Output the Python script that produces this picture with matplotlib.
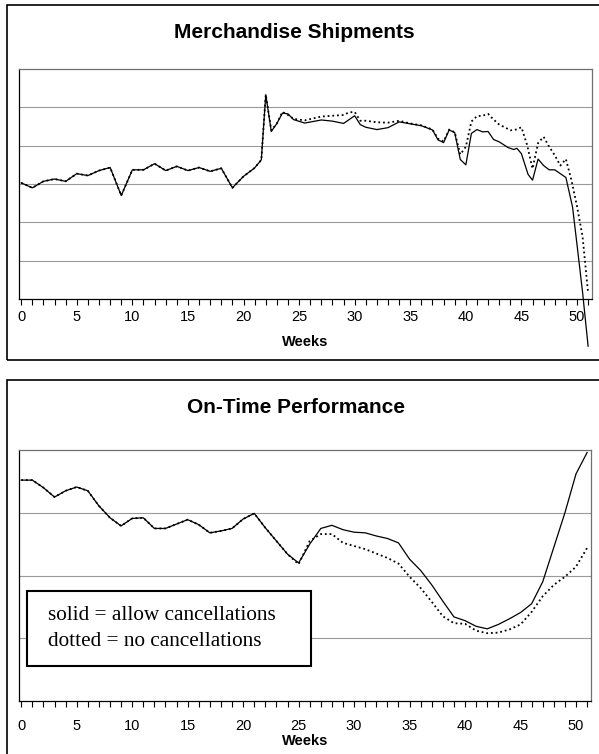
"""
Merchandise shipments / on-time performance, weekly
"""

import matplotlib
matplotlib.use("Agg")
from matplotlib import pyplot as plt
from matplotlib.patches import Rectangle

# ---- data -------------------------------------------------------------
# Merchandise Shipments, solid = allow cancellations
ship_weeks_solid = list(range(22)) + [
    21.6, 22, 22.5, 23, 23.5, 24, 24.5, 25.5,
    27, 28, 29, 30, 30.5, 31, 32, 33, 34, 35, 36, 37,
    37.5, 38, 38.5, 39, 39.5, 40, 40.5, 41, 41.5, 42, 42.5, 43,
    43.8, 44.3, 44.6, 45, 45.6, 46, 46.5, 47, 47.5, 48, 48.5, 49,
    49.6, 50, 50.5, 51]
ship_solid = [
    3.03, 2.90, 3.07, 3.13, 3.07, 3.27, 3.22, 3.35, 3.43, 2.70, 3.37,
    3.37, 3.53, 3.35, 3.46, 3.35, 3.43, 3.33, 3.41, 2.90, 3.20, 3.42,
    3.63, 5.33, 4.37, 4.58, 4.85, 4.83, 4.68, 4.59,
    4.67, 4.64, 4.58, 4.78, 4.55, 4.48, 4.42, 4.47, 4.62, 4.57, 4.52, 4.41,
    4.15, 4.08, 4.41, 4.34, 3.64, 3.50, 4.32, 4.42, 4.36, 4.37, 4.16, 4.10,
    3.95, 3.90, 3.93, 3.79, 3.25, 3.10, 3.65, 3.48, 3.37, 3.37, 3.27, 3.17,
    2.40, 1.42, 0.18, -1.23]

# Merchandise Shipments, dotted = no cancellations
ship_weeks_dot = list(range(22)) + [
    21.6, 22, 22.5, 23, 23.5, 24, 24.5, 25.5,
    27, 28, 29, 29.5, 30, 30.5, 31, 32, 33, 34, 35, 36, 37,
    37.5, 38, 38.5, 39, 39.5, 40, 40.5, 41, 41.5, 42, 42.5, 43,
    43.5, 44, 44.5, 45, 45.5, 46, 46.5, 47, 47.5, 48, 48.5, 49,
    49.5, 50, 50.5, 51]
ship_dot = [
    3.03, 2.90, 3.07, 3.13, 3.07, 3.27, 3.22, 3.35, 3.43, 2.70, 3.37,
    3.37, 3.53, 3.35, 3.46, 3.35, 3.43, 3.33, 3.41, 2.90, 3.20, 3.42,
    3.63, 5.33, 4.40, 4.58, 4.88, 4.80, 4.70, 4.66,
    4.76, 4.78, 4.80, 4.87, 4.88, 4.65, 4.65, 4.61, 4.60, 4.65, 4.58, 4.53, 4.42,
    4.18, 4.11, 4.42, 4.35, 3.77, 3.97, 4.63, 4.77, 4.78, 4.83, 4.68, 4.55,
    4.48, 4.40, 4.42, 4.48, 4.03, 3.40, 4.07, 4.23, 3.97, 3.75, 3.48, 3.65,
    3.10, 2.42, 1.63, 0.16]

# On-Time Performance, one value per week
otp_weeks = list(range(52))
otp_solid = [
    3.52, 3.52, 3.40, 3.25, 3.35, 3.41, 3.35, 3.11, 2.92, 2.79,
    2.91, 2.92, 2.75, 2.75, 2.82, 2.89, 2.81, 2.68, 2.71, 2.75,
    2.90, 2.99, 2.76, 2.55, 2.34, 2.20, 2.50, 2.75, 2.80, 2.73,
    2.69, 2.68, 2.63, 2.59, 2.52, 2.26, 2.08, 1.85, 1.59, 1.34,
    1.28, 1.19, 1.15, 1.22, 1.31, 1.41, 1.55, 1.90, 2.45, 3.00,
    3.62, 3.96]
otp_dot = [
    3.52, 3.52, 3.40, 3.25, 3.35, 3.41, 3.35, 3.11, 2.92, 2.79,
    2.91, 2.92, 2.75, 2.75, 2.82, 2.89, 2.81, 2.68, 2.71, 2.75,
    2.90, 2.99, 2.76, 2.55, 2.34, 2.18, 2.55, 2.66, 2.66, 2.52,
    2.47, 2.42, 2.35, 2.28, 2.19, 1.98, 1.80, 1.58, 1.35, 1.24,
    1.23, 1.12, 1.08, 1.09, 1.14, 1.22, 1.42, 1.67, 1.85, 1.98,
    2.14, 2.44]

tick_weeks = list(range(52))
label_weeks = list(range(0, 51, 5))

W, H = 599, 754


def fx(px):
    return px / W


def fy(py):
    return 1 - py / H


def style_axes(ax, ymax, tick_pad, label_pad):
    ax.set_xlim(-0.2, 51.35)
    ax.set_ylim(0, ymax)
    ax.set_yticks(range(1, ymax))
    ax.set_yticklabels([])
    ax.tick_params(axis="y", length=0)
    ax.grid(axis="y", color="#9a9a9a", linewidth=0.8)
    ax.set_axisbelow(True)
    ax.set_xticks(label_weeks)
    ax.set_xticks(tick_weeks, minor=True)
    ax.tick_params(axis="x", which="both", direction="out", length=4,
                   width=0.8, color="black", labelsize=10.5, pad=tick_pad)
    for s in ("top", "right"):
        ax.spines[s].set_color("#707070")
        ax.spines[s].set_linewidth(0.9)
    for s in ("left", "bottom"):
        ax.spines[s].set_color("black")
        ax.spines[s].set_linewidth(0.9)
    ax.set_xlabel("Weeks", fontsize=10.5, fontweight="bold", labelpad=label_pad)


plt.rcParams['font.family'] = ['Liberation Sans', 'DejaVu Sans']

fig = plt.figure(figsize=(W / 100, H / 100), dpi=100)

# chart frames
fig.add_artist(Rectangle((fx(7), fy(360)), 1.0, fy(5) - fy(360),
                         transform=fig.transFigure, fill=False,
                         edgecolor="black", linewidth=1.2))
fig.add_artist(Rectangle((fx(7), -0.05), 1.0, fy(380) + 0.05,
                         transform=fig.transFigure, fill=False,
                         edgecolor="black", linewidth=1.2))

# top: Merchandise Shipments
ax1 = fig.add_axes([fx(19), fy(299), fx(592) - fx(19), fy(69) - fy(299)])
style_axes(ax1, 6, tick_pad=4, label_pad=8)
ax1.plot(ship_weeks_solid, ship_solid, color="black", linewidth=0.9,
         clip_on=False)
ax1.plot(ship_weeks_dot, ship_dot, color="black", linewidth=1.3,
         linestyle=(0, (1, 1.6)), clip_on=False)
fig.text(fx(294), fy(33), "Merchandise Shipments", ha="center", va="center",
         fontsize=15, fontweight="bold")

# bottom: On-Time Performance
ax2 = fig.add_axes([fx(19), fy(701), fx(591) - fx(19), fy(450) - fy(701)])
style_axes(ax2, 4, tick_pad=9, label_pad=1)
ax2.plot(otp_weeks, otp_solid, color="black", linewidth=0.9)
ax2.plot(otp_weeks, otp_dot, color="black", linewidth=1.3,
         linestyle=(0, (1, 1.6)))
fig.text(fx(296), fy(407), "On-Time Performance", ha="center", va="center",
         fontsize=15, fontweight="bold")

# note box
fig.add_artist(Rectangle((fx(27), fy(666)), fx(311) - fx(27), fy(591) - fy(666),
                         transform=fig.transFigure, facecolor="white",
                         edgecolor="black", linewidth=1.5, zorder=5))
note_font = ['Liberation Serif', 'DejaVu Serif']
fig.text(fx(48), fy(616), "solid = allow cancellations", ha="left",
         va="center", fontsize=15.3, family=note_font, zorder=6)
fig.text(fx(48), fy(641), "dotted = no cancellations", ha="left",
         va="center", fontsize=15.3, family=note_font, zorder=6)

plt.savefig("out.png", dpi=100)
